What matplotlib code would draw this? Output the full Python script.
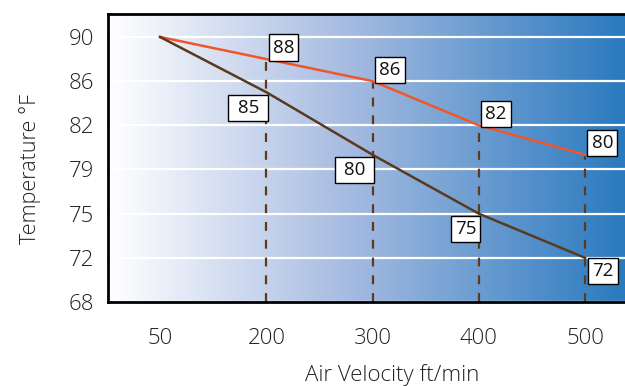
import numpy as np
import matplotlib.pyplot as plt
from matplotlib.colors import LinearSegmentedColormap

plt.rcParams['font.family'] = ['Open Sans', 'DejaVu Sans']

velocity = [50, 200, 300, 400, 500]
temp_ticks = [68, 72, 75, 79, 82, 86, 90]
upper = [90, 88, 86, 82, 80]   # orange line
lower = [90, 85, 80, 75, 72]   # brown line


def ypos(vals):
    # the y axis is spaced by tick index, not by value
    return np.interp(vals, temp_ticks, range(len(temp_ticks)))


fig = plt.figure(figsize=(6.25, 3.86), dpi=100)
ax = fig.add_axes([108 / 625, 84 / 386, 517 / 625, 288 / 386])

xi = np.arange(len(velocity))
yu = ypos(upper)
yl = ypos(lower)

ax.set_xlim(-0.49, 4.376)
ax.set_ylim(0, 6.52)

# horizontal gradient background
cmap = LinearSegmentedColormap.from_list(
    'bg', [(0, '#ffffff'), (0.45, '#a9bde2'), (1, '#2a7abf')])
grad = np.linspace(0, 1, 256).reshape(1, -1)
ax.imshow(grad, cmap=cmap, aspect='auto', extent=[0, 1, 0, 1],
          transform=ax.transAxes, zorder=0)

for y in range(len(temp_ticks)):
    ax.axhline(y, color='white', lw=1.6, zorder=1)

for x, y in zip(xi[1:], yu[1:]):
    ax.plot([x, x], [0, y], ls=(0, (4, 4)), color='#5c3a1c', lw=1.6,
            zorder=2, clip_on=False)

ax.plot(xi, yu, color='#f0562a', lw=1.8, zorder=3)
ax.plot(xi, yl, color='#5a3a1e', lw=1.8, zorder=3)

box = dict(boxstyle='square,pad=0.22', fc='white', ec='black', lw=1)
for x, y, v in zip(xi[1:], yu[1:], upper[1:]):
    ax.annotate(str(v), (x, y), xytext=(4.7, 1.8), textcoords='offset points',
                ha='left', va='bottom', fontsize=13.5, color='#111111',
                bbox=box, zorder=5)

lower_offsets = [(-1.8, -4.7, 'right', ' '), (-1.8, -4.7, 'right', ' '),
                 (-1.8, -4.7, 'right', ''), (5.4, -3.2, 'left', '')]
for (x, y, v), (dx, dy, ha, sp) in zip(zip(xi[1:], yl[1:], lower[1:]), lower_offsets):
    ax.annotate(sp + str(v) + sp, (x, y), xytext=(dx, dy),
                textcoords='offset points', ha=ha, va='top', fontsize=13.5,
                color='#111111', bbox=box, zorder=5)

ax.set_xticks(xi)
ax.set_xticklabels([str(v) for v in velocity])
ax.set_yticks(range(len(temp_ticks)))
ax.set_yticklabels([str(v) for v in temp_ticks])
ax.tick_params(length=0, labelsize=16, labelcolor='#222222')
ax.tick_params(axis='x', pad=19)
ax.tick_params(axis='y', pad=10)
for lab in ax.get_xticklabels() + ax.get_yticklabels():
    lab.set_fontweight('light')

ax.set_xlabel('Air Velocity ft/min', fontsize=16, color='#222222',
              fontweight='light')
ax.xaxis.set_label_coords((392 - 108) / 517, -0.215)
ax.set_ylabel('Temperature °F', fontsize=15.5, color='#222222',
              fontweight='light')
ax.yaxis.set_label_coords(-0.13, 0.462)

for s in ['left', 'bottom', 'top']:
    ax.spines[s].set_linewidth(2)
    ax.spines[s].set_color('black')
ax.spines['right'].set_visible(False)

fig.savefig('out.png', dpi=100)
